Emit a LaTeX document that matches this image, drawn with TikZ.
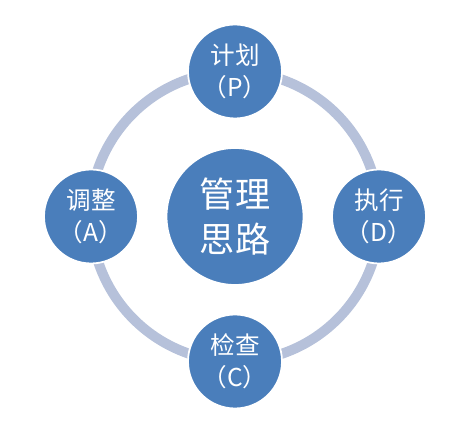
\documentclass[tikz,border=0pt]{standalone}
\usepackage{fontspec}
\newfontfamily\cjk{Noto Sans CJK SC}
\usetikzlibrary{calc, backgrounds}
\definecolor{stageblue}{RGB}{74, 126, 187}
\definecolor{ringgray}{RGB}{182, 193, 218}

\begin{document}
\begin{tikzpicture}[
				x=0.02cm, y=0.02cm,
				stage/.style={circle, draw=white, line width=1pt, fill=stageblue, minimum size=1.88cm, inner sep=0pt, align=center, text=white, font=\cjk\fontsize{14}{18}\selectfont},
				hub/.style={stage, minimum size=2.74cm, font=\cjk\fontsize{20}{25.5}\selectfont},
				ring/.style={draw=ringgray, line width=0.2cm}
				]
				\useasboundingbox (0,0) rectangle (472,438);
				\node[hub] (core) at (235,221.5) {管理\\思路};
				\node[stage] (plan) at ($(core)+(90:145)$) {计划\\（P）};
				\node[stage] (act) at ($(core)+(180:144)$) {调整\\（A）};
				\node[stage] (check) at ($(core)+(270:145)$) {检查\\（C）};
				\node[stage] (do) at ($(core)+(0:144)$) {执行\\（D）};
				
				% ring behind the stages
				\begin{scope}[on background layer]
					\draw[ring] (plan.center) arc[start angle=90, end angle=180, radius=145];
					\draw[ring] (act.center) arc[start angle=180, end angle=270, radius=145];
					\draw[ring] (check.center) arc[start angle=270, end angle=360, radius=145];
					\draw[ring] (do.center) arc[start angle=0, end angle=90, radius=145];
				\end{scope}
			\end{tikzpicture}
\end{document}
